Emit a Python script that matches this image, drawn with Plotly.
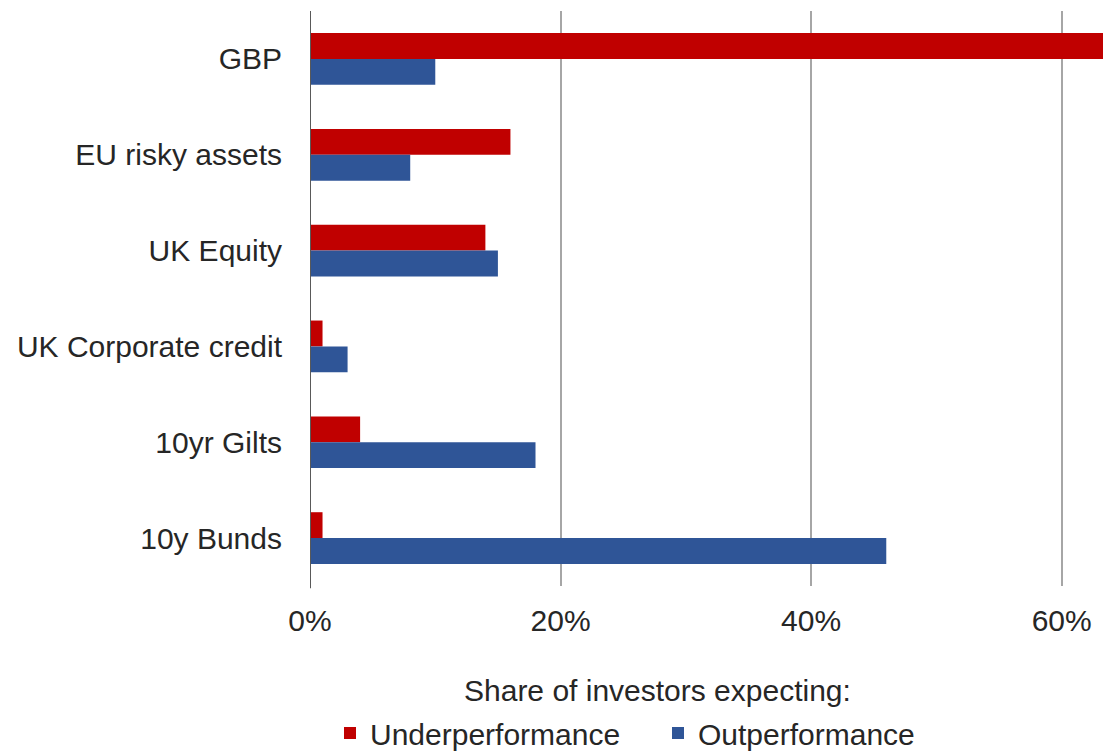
import plotly.graph_objects as go

categories = ["GBP", "EU risky assets", "UK Equity", "UK Corporate credit", "10yr Gilts", "10y Bunds"]
underperformance = [64, 16, 14, 1, 4, 1]
outperformance = [10, 8, 15, 3, 18, 46]
tick_vals = [0, 20, 40, 60]
tick_text = ["0%", "20%", "40%", "60%"]

FONT = "Liberation Sans, Arial, sans-serif"
TXT = "#262626"

fig = go.Figure()
fig.add_trace(go.Bar(y=categories, x=underperformance, orientation="h", name="Underperformance",
                     marker=dict(color="#C00000", line=dict(width=0))))
fig.add_trace(go.Bar(y=categories, x=outperformance, orientation="h", name="Outperformance",
                     marker=dict(color="#2F5597", line=dict(width=0))))

fig.update_layout(
    width=1103, height=753,
    margin=dict(l=310, r=0, t=11, b=167),
    paper_bgcolor="white", plot_bgcolor="white",
    barmode="group", bargap=0.46, bargroupgap=0,
    font=dict(family=FONT, size=30, color=TXT),
    showlegend=True,
    legend=dict(orientation="h", xref="container", yref="container",
                x=(310 + 20) / 1103, y=1 - 733 / 753, xanchor="left", yanchor="middle",
                font=dict(family=FONT, size=30, color=TXT),
                itemwidth=30, traceorder="normal", entrywidth=283,
                tracegroupgap=0, bgcolor="rgba(0,0,0,0)"),
    xaxis=dict(range=[0, 63.3], tickvals=tick_vals, ticktext=tick_text,
               showgrid=True, gridcolor="#A6A6A6", gridwidth=2,
               zeroline=False, showline=False, ticks="", ticklabelstandoff=14,
               tickfont=dict(size=30, color=TXT)),
    yaxis=dict(autorange="reversed", showgrid=False, zeroline=False,
               showline=False, ticks="", ticklabelstandoff=27,
               tickfont=dict(size=30, color=TXT)),
    shapes=[dict(type="line", xref="x", yref="paper", x0=0, x1=0, y0=-0.004, y1=1.0,
                 line=dict(color="#595959", width=2))],
    annotations=[dict(text="Share of investors expecting:", xref="paper", yref="paper",
                      x=0.4376, y=-0.181, xanchor="center", yanchor="middle", showarrow=False,
                      font=dict(family=FONT, size=30, color=TXT))],
)

fig.write_html("out.html", config={"displayModeBar": False},
               post_script="document.body.style.margin='0';document.body.style.overflow='hidden';")
